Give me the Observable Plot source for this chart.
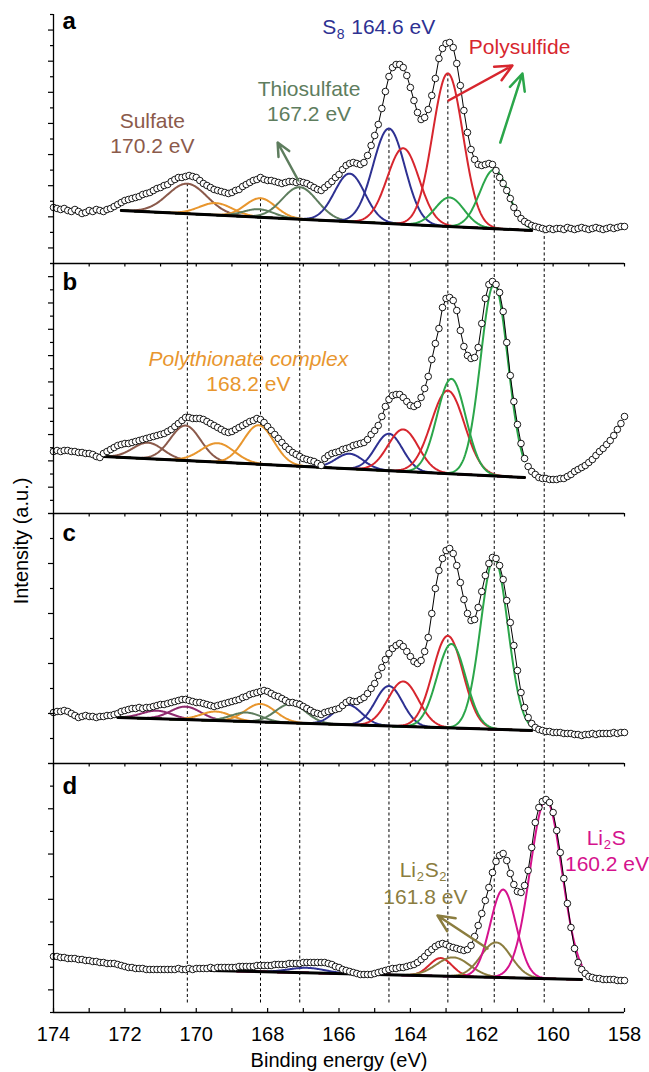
<!DOCTYPE html>
<html>
<head>
<meta charset="utf-8">
<script src="https://cdn.jsdelivr.net/npm/d3@7"></script>
<script src="https://cdn.jsdelivr.net/npm/@observablehq/plot@0.6"></script>
<style>
  body { margin: 0; background: #fff; }
  #chart { position: relative; width: 649px; height: 1072px; font-family: "Liberation Sans", Arial, Helvetica, sans-serif; }
  #chart svg { display: block; overflow: visible; }
  #ylab { position: absolute; left: -79px; top: 531px; width: 200px; height: 20px; line-height: 20px;
          font-size: 20px; text-align: center; transform: rotate(-90deg); color: #000; white-space: nowrap; }
</style>
</head>
<body>
<div id="chart"><div id="ylab">Intensity (a.u.)</div></div>
<script>
// ---------------- DATA ----------------
// Binding-energy grid of the measured points (eV), 174.0 down to 158.0 in 0.1 eV steps
const energy = d3.range(1740, 1579, -1).map(v => v / 10);

const intensityA = [
  56,55,54,55,53,52,54,52,50,51,
  53,52,54,53,52,54,55,57,59,61,
  63,64,65,66,67,69,70,71,73,75,
  76,78,79,82,84,86,86,87,88,87,
  86,83,80,78,76,74,73,72,71,70,
  71,73,74,77,79,81,83,84,86,84,
  83,83,82,81,80,81,82,82,81,82,
  81,80,78,76,74,73,76,79,82,86,
  89,94,98,100,101,100,99,101,108,118,
  128,139,155,172,187,196,199,199,196,188,
  176,163,151,144,146,154,168,185,205,215,
  220,221,216,200,178,153,131,114,104,99,
  98,99,100,99,93,86,80,73,65,56,
  50,45,42,40,38,37,36,35,34,35,
  34,35,35,34,36,35,34,35,36,35,
  34,35,36,35,34,35,36,35,36,37,
  37];
const intensityB = [
  62,63,62,63,63,62,62,61,61,60,
  60,59,57,56,60,62,64,66,68,69,
  70,70,71,72,73,74,75,76,77,78,
  79,80,82,84,87,90,93,96,96,95,
  95,95,94,92,90,88,86,84,82,81,
  82,84,86,88,90,92,93,95,94,91,
  87,83,79,75,71,67,64,61,59,57,
  55,54,53,52,50,48,55,58,60,61,
  62,64,65,66,68,69,70,71,74,79,
  83,88,97,107,114,118,119,119,116,112,
  108,107,109,116,125,137,154,170,185,206,
  215,216,213,203,183,167,158,155,156,166,
  190,215,229,232,229,221,202,171,138,112,
  89,70,55,47,42,39,36,35,35,34,
  34,34,35,35,37,39,42,44,46,48,
  51,54,58,62,65,69,73,78,84,90,
  97];
const intensityC = [
  51,52,52,53,52,50,48,46,47,48,
  47,47,46,47,47,48,48,49,50,52,
  53,54,55,55,56,55,56,56,57,58,
  59,59,60,61,62,63,64,64,63,62,
  61,61,60,59,58,57,58,59,60,61,
  62,63,64,66,67,69,70,71,72,73,
  72,70,68,67,65,63,61,61,60,59,
  57,55,53,51,50,49,51,52,53,54,
  55,58,61,63,62,62,64,66,70,75,
  80,88,96,104,110,115,118,120,117,112,
  107,102,100,103,112,126,150,175,193,205,
  213,215,210,198,181,164,150,143,144,156,
  172,188,200,206,205,198,184,163,141,118,
  93,71,56,46,40,36,34,33,32,32,
  31,31,31,30,30,30,29,29,28,29,
  29,30,29,30,30,30,30,31,30,31,
  31];
const intensityD = [
  56,56,55,55,54,54,54,53,53,52,
  52,51,51,50,50,49,49,49,48,47,
  46,45,45,44,44,44,43,43,43,43,
  43,43,43,43,43,44,43,43,44,43,
  44,44,44,44,45,44,45,45,45,45,
  45,45,46,46,46,46,46,47,47,47,
  47,47,48,48,48,48,49,49,49,49,
  50,50,50,50,50,50,50,49,48,46,
  45,43,42,41,40,39,38,38,38,38,
  39,40,41,42,43,44,44,45,45,46,
  47,48,50,53,56,60,63,66,68,69,
  68,66,65,64,63,62,63,67,76,87,
  99,112,125,140,151,157,159,152,139,128,
  121,120,127,142,165,190,205,211,213,210,
  200,182,160,134,109,85,64,50,43,39,
  36,35,34,34,33,33,33,33,32,32,
  32];

// Fitted components: species, centre (eV), height above background (a.u.), FWHM (eV)
const speciesA = ["sulfate","polythionate","polythionate","thiosulfate","thiosulfate","s8","s8","polysulfide","polysulfide","polysulfide2","polysulfide2"];
const centersA = [170.25,169.45,168.2,168.25,167.1,165.7,164.6,164.2,162.95,162.9,161.65];
const heightsA = [30,12,19,8,32,48,95,76,153,29,59];
const fwhmA    = [1.3,1.1,1.0,1.0,1.15,1.0,1.05,1.05,1.0,0.95,0.95];

const speciesB = ["sulfate","sulfate","polythionate","polythionate","s8","s8","polysulfide","polysulfide","polysulfide2","polysulfide2"];
const centersB = [171.35,170.3,169.4,168.25,165.7,164.6,164.2,162.95,162.85,161.65];
const heightsB = [16,35,19,39,15,37,42,83,95,192];
const fwhmB    = [1.0,1.0,1.1,1.0,0.9,0.9,1.0,1.1,0.95,0.9];

const speciesC = ["sulfatec","sulfatec","polythionate","polythionate","thiosulfate","thiosulfate","s8","s8","polysulfide","polysulfide","polysulfide2","polysulfide2"];
const centersC = [171.1,170.3,169.45,168.2,168.6,167.35,165.75,164.6,164.2,162.95,162.85,161.65];
const heightsC = [8,13,9,18,9,19,20,40,45,92,84,171];
const fwhmC    = [1.0,1.0,1.0,1.0,1.0,1.0,0.9,0.9,1.0,1.0,0.95,0.9];

const speciesD = ["s8","polysulfide","li2s2","li2s2","li2s","li2s"];
const centersD = [166.9,163.15,162.8,161.6,161.4,160.2];
const heightsD = [5,18,19,35,88,179];
const fwhmD    = [1.2,0.75,1.1,1.0,0.85,1.05];

// Linear background: start/end energy and intensity per panel a-d
const baseStartE = [172.1, 172.6, 172.2, 169.6];
const baseEndE   = [160.6, 160.8, 160.6, 159.2];
const baseStartI = [53, 57, 46, 42];
const baseEndI   = [33, 36, 33, 33];

// Reference energies (dashed guides)
const guideEnergies = [170.25, 168.2, 167.1, 164.6, 162.95, 161.65, 160.25];

// Axis ticks
const xTicks = d3.range(174, 157, -1);
const xTickLabels = [174, 172, 170, 168, 166, 164, 162, 160, 158];
const panelLetters = ["a", "b", "c", "d"];
const yTickIntervals = [16, 19, 10, 11];

// Species colours
const speciesKeys   = ["sulfate","thiosulfate","polythionate","s8","polysulfide","polysulfide2","sulfatec","li2s2","li2s"];
const speciesColors = ["#8b5a4b","#5e7d5e","#e8962e","#2e3192","#d7262e","#2ba64a","#8e2a6e","#8b7d3f","#d5128d"];
const col = k => speciesColors[speciesKeys.indexOf(k)];

// ---------------- BUILD ----------------
const FONT = '"Liberation Sans", Arial, Helvetica, sans-serif';
const layout = [
  {H: 249, mt: 14, mb: 0, letterDy: 14, longParity: 1},
  {H: 250, mt: 0,  mb: 0, letterDy: 26, longParity: 0},
  {H: 250, mt: 0,  mb: 0, letterDy: 27, longParity: 0},
  {H: 249, mt: 0,  mb: 60, letterDy: 30, longParity: 1}
];
const intensities = [intensityA, intensityB, intensityC, intensityD];
const comps = [
  [speciesA, centersA, heightsA, fwhmA],
  [speciesB, centersB, heightsB, fwhmB],
  [speciesC, centersC, heightsC, fwhmC],
  [speciesD, centersD, heightsD, fwhmD]
];

function annotations(p) {
  const T = (txt, x, y, fill, extra = {}) =>
    Plot.text([txt], {x, y, text: d => d, fill, fontSize: 21, lineAnchor: "bottom", textAnchor: "middle", ...extra});
  const A = (x1, y1, x2, y2, stroke) =>
    Plot.arrow([{x1, y1, x2, y2}], {x1: "x1", y1: "y1", x2: "x2", y2: "y2", stroke, strokeWidth: 2.5, headLength: 11, headAngle: 50});
  if (p === 0) return [
    T("Sulfate", 171.23, 136, col("sulfate")),
    T("170.2 eV", 171.23, 111, col("sulfate")),
    T("Thiosulfate", 166.84, 168, col("thiosulfate")),
    T("167.2 eV", 166.84, 143, col("thiosulfate")),
    T("S", 166.47, 230, col("s8"), {textAnchor: "start"}),
    T("8", 166.47, 230, col("s8"), {textAnchor: "start", dx: 14.5, dy: 5, fontSize: 14}),
    T("164.6 eV", 166.47, 230, col("s8"), {textAnchor: "start", dx: 29}),
    T("Polysulfide", 160.94, 210, col("polysulfide")),
    A(162.93, 163, 161.14, 198, col("polysulfide")),
    A(161.48, 121, 160.86, 190, col("polysulfide2")),
    A(167.14, 83, 167.72, 121, col("thiosulfate"))
  ];
  if (p === 1) return [
    T("Polythionate complex", 168.54, 148, col("polythionate"), {fontStyle: "italic"}),
    T("168.2 eV", 168.54, 123, col("polythionate"))
  ];
  if (p === 3) return [
    T("Li", 164.3, 136, col("li2s2"), {textAnchor: "start"}),
    T("2", 164.3, 136, col("li2s2"), {textAnchor: "start", dx: 17, dy: 4, fontSize: 13}),
    T("S", 164.3, 136, col("li2s2"), {textAnchor: "start", dx: 25}),
    T("2", 164.3, 136, col("li2s2"), {textAnchor: "start", dx: 39.5, dy: 4, fontSize: 13}),
    T("161.8 eV", 163.58, 109, col("li2s2")),
    T("Li", 159.06, 168, col("li2s"), {textAnchor: "start"}),
    T("2", 159.06, 168, col("li2s"), {textAnchor: "start", dx: 17, dy: 4, fontSize: 13}),
    T("S", 159.06, 168, col("li2s"), {textAnchor: "start", dx: 25}),
    T("160.2 eV", 158.49, 142, col("li2s")),
    A(161.84, 64, 163.24, 97, col("li2s2"))
  ];
  return [];
}

function buildPanel(p) {
  const {H, mt, mb, letterDy, longParity} = layout[p];
  const [species, centers, heights, fwhm] = comps[p];
  const e0 = baseStartE[p], e1 = baseEndE[p];
  const slope = (baseEndI[p] - baseStartI[p]) / (e1 - e0);
  const base = e => baseStartI[p] + (e - e0) * slope;
  const gauss = (i, e) => heights[i] * Math.exp(-4 * Math.LN2 * (e - centers[i]) ** 2 / (fwhm[i] ** 2));

  const points = energy.map((e, i) => ({e, v: intensities[p][i]}));
  const fitPoints = points.filter(d => d.e <= e0 + 1e-9 && d.e >= e1 - 1e-9);
  const grid = d3.range(Math.round(e0 * 50), Math.round(e1 * 50) - 1, -1).map(v => v / 50);
  const curves = [];
  species.forEach((s, i) => grid.forEach(e => curves.push({id: i, s, e, v: base(e) + gauss(i, e)})));
  const background = [{e: e0, v: baseStartI[p]}, {e: e1, v: baseEndI[p]}];

  const ticksY = d3.range(0, yTickIntervals[p] + 1).map(k => ({v: k * H / yTickIntervals[p], k}));
  const longY = ticksY.filter(t => t.k % 2 === longParity).map(t => t.v);
  const shortY = ticksY.filter(t => t.k % 2 !== longParity).map(t => t.v);

  const marks = [];
  if (p === 0) {
    const topAt = e => base(e) + d3.max(species.map((s, i) => gauss(i, e)));
    marks.push(Plot.ruleX(guideEnergies, {x: d => d, y1: d => topAt(d), y2: 0, stroke: "#000", strokeWidth: 1, strokeDasharray: "3,2.5"}));
  } else {
    marks.push(Plot.ruleX(guideEnergies, {x: d => d, stroke: "#000", strokeWidth: 1, strokeDasharray: "3,2.5", insetBottom: p === 3 ? 7 : 0}));
  }
  marks.push(Plot.line(curves, {x: "e", y: "v", z: "id", stroke: d => col(d.s), strokeWidth: 2, curve: "linear"}));
  marks.push(Plot.line(background, {x: "e", y: "v", stroke: "#000", strokeWidth: 3}));
  marks.push(Plot.line(fitPoints, {x: "e", y: "v", stroke: "#000", strokeWidth: 1}));
  marks.push(Plot.dot(points, {x: "e", y: "v", r: 3.3, fill: "#fff", stroke: "#000", strokeWidth: 0.9}));

  marks.push(Plot.ruleX([174], {stroke: "#000", strokeWidth: 1.3}));
  marks.push(Plot.axisY(longY, {tickSize: 5, tickFormat: () => "", label: null, strokeWidth: 1.2}));
  marks.push(Plot.axisY(shortY, {tickSize: 3, tickFormat: () => "", label: null, strokeWidth: 1.2}));
  if (p > 0) {
    marks.push(Plot.ruleY([H], {stroke: "#000", strokeWidth: 1.3}));
    marks.push(Plot.ruleX(xTicks, {x: d => d, y1: H, y2: H - 3.5, stroke: "#000", strokeWidth: 1.2}));
  }
  if (p === 3) {
    marks.push(Plot.ruleY([0], {stroke: "#000", strokeWidth: 1.3}));
    marks.push(Plot.ruleX(xTicks, {x: d => d, y1: 0, y2: 4, stroke: "#000", strokeWidth: 1.2}));
    marks.push(Plot.text(xTickLabels, {x: d => d, text: d => String(d), frameAnchor: "bottom", dy: 28, lineAnchor: "bottom", fontSize: 20, fill: "#000"}));
    marks.push(Plot.text(["Binding energy (eV)"], {text: d => d, frameAnchor: "bottom", dy: 54, lineAnchor: "bottom", fontSize: 20, fill: "#000"}));
  }
  marks.push(Plot.text([panelLetters[p]], {text: d => d, frameAnchor: "top-left", dx: 9, dy: letterDy, lineAnchor: "bottom", textAnchor: "start", fontSize: 24, fontWeight: "bold", fill: "#000"}));
  marks.push(...annotations(p));

  return Plot.plot({
    width: 649,
    height: H + mt + mb,
    marginLeft: 53, marginRight: 25, marginTop: mt, marginBottom: mb,
    x: {domain: [174, 158], axis: null},
    y: {domain: [0, H], axis: null},
    style: {fontFamily: FONT, fontSize: "20px", overflow: "visible", background: "transparent", color: "#000"},
    marks
  });
}

const chart = document.getElementById("chart");
for (let p = 0; p < 4; p++) chart.appendChild(buildPanel(p));
</script>
</body>
</html>
